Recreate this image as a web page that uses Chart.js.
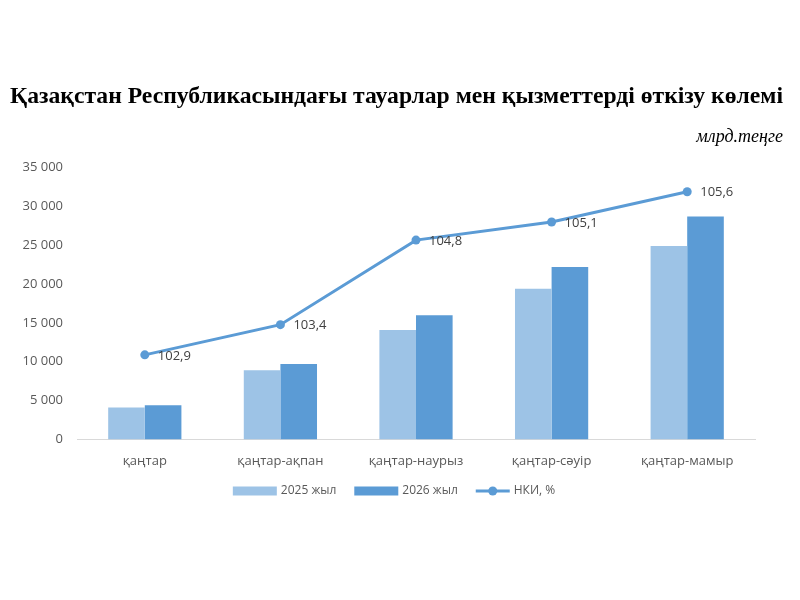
<!DOCTYPE html>
<html>
<head>
<meta charset="utf-8">
<script src="https://cdn.jsdelivr.net/npm/chart.js@4"></script>
<style>
  html, body { margin: 0; padding: 0; background: #fff; }
  #wrap { width: 800px; height: 600px; }
</style>
</head>
<body>
<div id="wrap"><canvas id="salesChart" width="800" height="600"></canvas></div>
<script>
// periods and values (млрд. теңге), index of physical volume in %
const periods = ['қаңтар', 'қаңтар-ақпан', 'қаңтар-наурыз', 'қаңтар-сәуір', 'қаңтар-мамыр'];
const sales2025 = [4100, 8900, 14100, 19400, 24900];
const sales2026 = [4400, 9700, 16000, 22200, 28700];
const nkiPercent = [102.9, 103.4, 104.8, 105.1, 105.6];
const yTicks = [0, 5000, 10000, 15000, 20000, 25000, 30000, 35000];

const labelFont = '"Open Sans", "DejaVu Sans", sans-serif';
const grey = '#595959';

const fmtThousands = v => String(v).replace(/\B(?=(\d{3})+(?!\d))/g, ' ');
const fmtComma = v => v.toFixed(1).replace('.', ',');

// value labels next to the line points
const pointLabels = {
  id: 'pointLabels',
  afterDatasetsDraw(chart) {
    const ctx = chart.ctx;
    const meta = chart.getDatasetMeta(2);
    ctx.save();
    ctx.font = '13px ' + labelFont;
    ctx.fillStyle = '#404040';
    ctx.textAlign = 'left';
    ctx.textBaseline = 'middle';
    meta.data.forEach((pt, i) => {
      ctx.fillText(fmtComma(nkiPercent[i]), pt.x + 13, pt.y + 1);
    });
    ctx.restore();
  }
};

// legend drawn below the axis
const bottomLegend = {
  id: 'bottomLegend',
  afterDraw(chart) {
    const ctx = chart.ctx;
    const ds = chart.data.datasets;
    const y = 491;
    ctx.save();
    ctx.font = '12px ' + labelFont;
    const items = ds.map(d => ({
      d,
      sym: d.type === 'line' ? 34 : 44,
      tw: ctx.measureText(d.label).width
    }));
    const gap = 4, itemGap = 18;
    let total = items.reduce((s, it) => s + it.sym + gap + it.tw, 0) + itemGap * (items.length - 1);
    let x = 394 - total / 2;
    items.forEach(it => {
      if (it.d.type === 'line') {
        ctx.strokeStyle = it.d.borderColor;
        ctx.lineWidth = 3;
        ctx.beginPath();
        ctx.moveTo(x, y);
        ctx.lineTo(x + it.sym, y);
        ctx.stroke();
        ctx.fillStyle = it.d.borderColor;
        ctx.beginPath();
        ctx.arc(x + it.sym / 2, y, 4.5, 0, Math.PI * 2);
        ctx.fill();
      } else {
        ctx.fillStyle = it.d.backgroundColor;
        ctx.fillRect(x, y - 4.5, it.sym, 9);
      }
      x += it.sym + gap;
      ctx.fillStyle = grey;
      ctx.textAlign = 'left';
      ctx.textBaseline = 'middle';
      ctx.fillText(it.d.label, x, y);
      x += it.tw + itemGap;
    });
    ctx.restore();
  }
};

const ctx = document.getElementById('salesChart').getContext('2d');
new Chart(ctx, {
  type: 'bar',
  data: {
    labels: periods,
    datasets: [
      { label: '2025 жыл', data: sales2025, backgroundColor: '#9DC3E6', order: 1, yAxisID: 'y' },
      { label: '2026 жыл', data: sales2026, backgroundColor: '#5B9BD5', order: 1, yAxisID: 'y' },
      {
        type: 'line', label: 'НКИ, %', data: nkiPercent, yAxisID: 'y1', order: 0,
        borderColor: '#5B9BD5', backgroundColor: '#5B9BD5', borderWidth: 3,
        pointRadius: 4.5, pointBackgroundColor: '#5B9BD5', pointBorderWidth: 0,
        tension: 0
      }
    ]
  },
  options: {
    responsive: false,
    animation: false,
    layout: { padding: { left: 10, right: 17, top: 0, bottom: 117 } },
    datasets: { bar: { categoryPercentage: 0.54, barPercentage: 1.0 } },
    plugins: {
      legend: { display: false },
      tooltip: { enabled: false },
      title: {
        display: true,
        text: 'Қазақстан Республикасындағы тауарлар мен қызметтерді өткізу көлемі',
        color: '#000',
        font: { family: '"Liberation Serif", "Times New Roman", serif', size: 23.7, weight: 'bold', lineHeight: 1.2 },
        padding: { top: 83, bottom: 13 }
      },
      subtitle: {
        display: true,
        text: 'млрд.теңге',
        align: 'end',
        color: '#000',
        font: { family: '"Liberation Serif", "Times New Roman", serif', size: 18, style: 'italic', lineHeight: 1.2 },
        padding: { top: 2, bottom: 19.6 }
      }
    },
    scales: {
      x: {
        grid: { display: false, drawTicks: false },
        border: { display: true, color: '#D9D9D9', width: 1 },
        ticks: { color: grey, font: { family: labelFont, size: 13 }, padding: 14, maxRotation: 0 }
      },
      y: {
        min: 0, max: 35000,
        afterBuildTicks: s => { s.ticks = yTicks.map(v => ({ value: v })); },
        afterFit: s => { s.width = 67; },
        grid: { display: false, drawTicks: false },
        border: { display: false },
        ticks: { color: grey, font: { family: labelFont, size: 13 }, padding: 14, callback: v => fmtThousands(v) }
      },
      y1: {
        position: 'right',
        min: 101.5, max: 106.0,
        afterFit: s => { s.width = 28; },
        grid: { display: false, drawTicks: false },
        border: { display: false },
        ticks: { display: false }
      }
    }
  },
  plugins: [pointLabels, bottomLegend]
});
</script>
</body>
</html>
